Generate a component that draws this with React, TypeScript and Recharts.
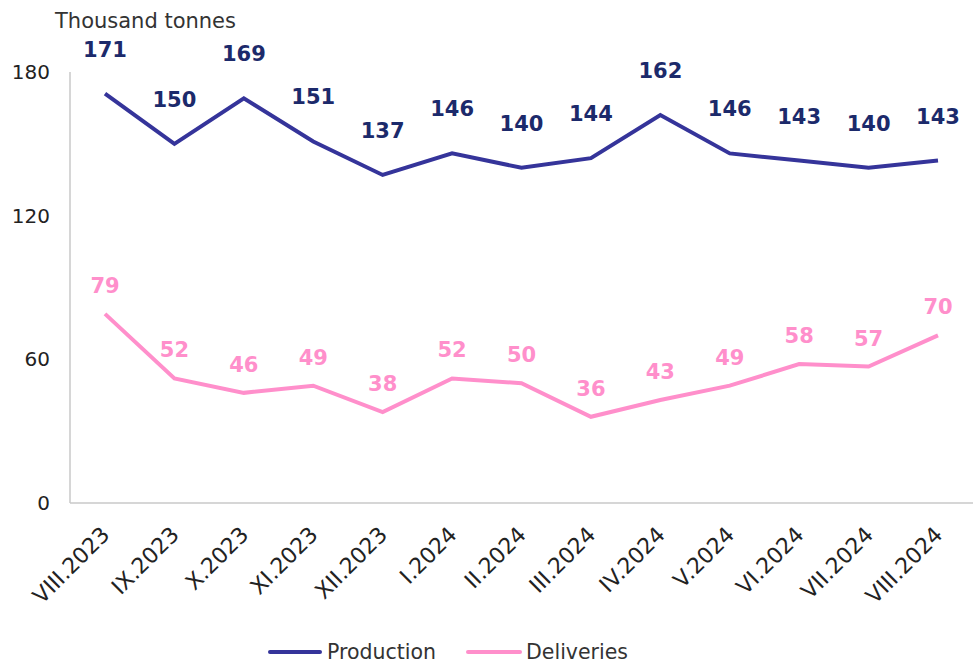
import React from "react";
import { LineChart, Line, XAxis, YAxis, LabelList } from "recharts";

const categories = ["VIII.2023", "IX.2023", "X.2023", "XI.2023", "XII.2023", "I.2024", "II.2024", "III.2024", "IV.2024", "V.2024", "VI.2024", "VII.2024", "VIII.2024"];
const production = [171, 150, 169, 151, 137, 146, 140, 144, 162, 146, 143, 140, 143];
const deliveries = [79, 52, 46, 49, 38, 52, 50, 36, 43, 49, 58, 57, 70];
const yTicks = [0, 60, 120, 180];

const data = categories.map((c, i) => ({ name: c, production: production[i], deliveries: deliveries[i] }));

const FONT = "'DejaVu Sans', Verdana, sans-serif";
const NAVY = "#35349a";
const NAVY_LABEL = "#1c2a6b";
const PINK = "#ff8fcb";

const XTick = (props: any) => {
  const { x, y, payload } = props;
  return (
    <g transform={`translate(${x + 6},${y + 25})`}>
      <text transform="rotate(-45)" textAnchor="end" fontSize={22} fill="#222" fontFamily={FONT}>
        {payload.value}
      </text>
    </g>
  );
};

const LegendContent = () => (
  <div style={{ display: "flex", fontFamily: FONT, fontSize: 20.5, lineHeight: "20px", color: "#333", marginLeft: 268, whiteSpace: "nowrap" }}>
    <div style={{ display: "flex", alignItems: "center", marginRight: 30 }}>
      <span style={{ display: "inline-block", width: 54, height: 4, borderRadius: 2, background: NAVY, marginRight: 5 }} />
      Production
    </div>
    <div style={{ display: "flex", alignItems: "center" }}>
      <span style={{ display: "inline-block", width: 56, height: 4, borderRadius: 2, background: PINK, marginRight: 4 }} />
      Deliveries
    </div>
  </div>
);

export default function App() {
  return (
    <div style={{ position: "absolute", left: 0, top: 0, width: 978, height: 666, background: "#fff", overflow: "hidden" }}>
      <div style={{ position: "absolute", left: 55, top: 9, fontFamily: FONT, fontSize: 21, color: "#333" }}>Thousand tonnes</div>
      <LineChart width={978} height={666} data={data} margin={{ top: 72, right: 5, bottom: 0, left: 0 }}>
        <XAxis
          dataKey="name"
          padding={{ left: 35, right: 35 }}
          tick={<XTick />}
          tickLine={false}
          axisLine={{ stroke: "#c8c8c8", strokeWidth: 1.5 }}
          interval={0}
          height={163}
        />
        <YAxis
          domain={[0, 180]}
          ticks={yTicks}
          width={70}
          tickLine={false}
          tickSize={0}
          tickMargin={20}
          axisLine={{ stroke: "#c8c8c8", strokeWidth: 1.5 }}
          tick={{ fontSize: 20, fill: "#222", fontFamily: FONT }}
        />
        <Line dataKey="production" stroke={NAVY} strokeWidth={4} dot={false} isAnimationActive={false}>
          <LabelList dataKey="production" position="top" offset={37} fill={NAVY_LABEL} fontSize={21} fontWeight="bold" fontFamily={FONT} />
        </Line>
        <Line dataKey="deliveries" stroke={PINK} strokeWidth={4} dot={false} isAnimationActive={false}>
          <LabelList dataKey="deliveries" position="top" offset={21} fill={PINK} fontSize={21} fontWeight="bold" fontFamily={FONT} />
        </Line>
      </LineChart>
      <div style={{ position: "absolute", left: 0, top: 642 }}>
        <LegendContent />
      </div>
    </div>
  );
}
